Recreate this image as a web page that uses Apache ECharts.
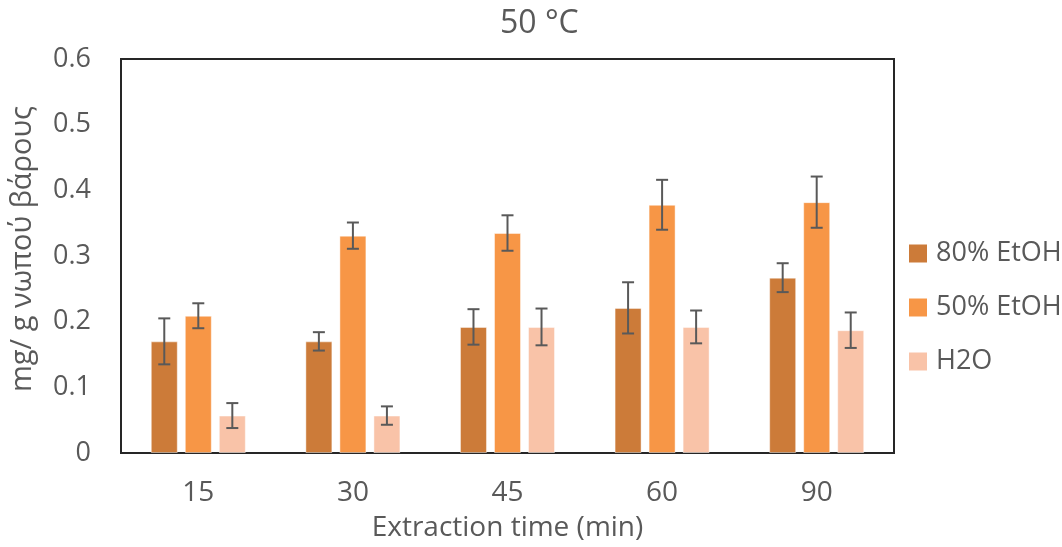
<!DOCTYPE html>
<html>
<head>
<meta charset="utf-8">
<script src="https://cdn.jsdelivr.net/npm/echarts@6/dist/echarts.min.js"></script>
<style>
  html, body { margin: 0; padding: 0; background: #fff; }
  #chart { width: 1062px; height: 547px; }
</style>
</head>
<body>
<div id="chart"></div>
<script>
// Extraction times (min)
const categories = ['15', '30', '45', '60', '90'];
const seriesNames = ['80% EtOH', '50% EtOH', 'H2O'];

// Mean content, mg / g fresh weight
const etoh80 = [0.170, 0.170, 0.192, 0.221, 0.267];
const etoh50 = [0.209, 0.331, 0.335, 0.378, 0.382];
const water  = [0.057, 0.057, 0.192, 0.192, 0.187];

// Standard deviations (± error)
const etoh80Err = [0.035, 0.014, 0.027, 0.039, 0.022];
const etoh50Err = [0.019, 0.020, 0.027, 0.038, 0.039];
const waterErr  = [0.019, 0.014, 0.028, 0.025, 0.027];

const yTicks = ['0', '0.1', '0.2', '0.3', '0.4', '0.5', '0.6'];

const colors = ['#CC7B39', '#F79646', '#F9C3A8'];
const textColor = '#595959';
const font = '"Open Sans", "Noto Sans", sans-serif';

const BAR_WIDTH = 27;
const BAR_GAP = 0.26;

const means = [etoh80, etoh50, water];
const errs = [etoh80Err, etoh50Err, waterErr];

const barSeries = seriesNames.map((name, i) => ({
  name: name,
  type: 'bar',
  data: means[i],
  barWidth: BAR_WIDTH,
  barGap: (BAR_GAP * 100) + '%',
  itemStyle: { color: colors[i], borderColor: 'rgba(255,255,255,0.45)', borderWidth: 1 },
  emphasis: { disabled: true },
  z: 2
}));

// Error bars drawn at each bar's centre within the category band
const errorSeries = seriesNames.map((name, i) => ({
  type: 'custom',
  name: name + ' err',
  data: means[i].map((v, k) => [k, v - errs[i][k], v + errs[i][k]]),
  encode: { x: 0, y: [1, 2] },
  z: 5,
  silent: true,
  renderItem: function (params, api) {
    const k = api.value(0);
    const lo = api.coord([k, api.value(1)]);
    const hi = api.coord([k, api.value(2)]);
    const offset = (i - 1) * BAR_WIDTH * (1 + BAR_GAP);
    const x = lo[0] + offset;
    const cap = 6;
    const style = { stroke: '#595959', lineWidth: 2 };
    return {
      type: 'group',
      children: [
        { type: 'line', shape: { x1: x, y1: lo[1], x2: x, y2: hi[1] }, style: style },
        { type: 'line', shape: { x1: x - cap, y1: hi[1], x2: x + cap, y2: hi[1] }, style: style },
        { type: 'line', shape: { x1: x - cap, y1: lo[1], x2: x + cap, y2: lo[1] }, style: style }
      ]
    };
  }
}));

const chart = echarts.init(document.getElementById('chart'), null, { renderer: 'canvas' });
chart.setOption({
  animation: false,
  backgroundColor: '#fff',
  textStyle: { fontFamily: font },
  title: {
    text: '50 °C',
    left: 500,
    top: 8,
    padding: 0,
    textStyle: { fontFamily: font, fontSize: 32, fontWeight: 'normal', color: textColor }
  },
  legend: {
    data: seriesNames,
    orient: 'vertical',
    left: 904,
    top: 235,
    icon: 'rect',
    itemWidth: 18,
    itemHeight: 18,
    itemGap: 27,
    itemStyle: { borderWidth: 0 },
    textStyle: { fontFamily: font, fontSize: 27, color: textColor, lineHeight: 27, padding: [0, 0, 0, 4] }
  },
  grid: {
    left: 119, right: 168, top: 59, bottom: 93,
    show: true,
    borderColor: '#262626',
    borderWidth: 2,
    containLabel: false
  },
  xAxis: {
    type: 'category',
    data: categories,
    name: 'Extraction time (min)',
    nameLocation: 'middle',
    nameGap: 61,
    nameTextStyle: { fontFamily: font, fontSize: 28, color: textColor },
    axisLine: { show: false },
    axisTick: { show: false },
    axisLabel: { fontFamily: font, fontSize: 28, color: textColor, margin: 26 },
    splitLine: { show: false }
  },
  yAxis: {
    type: 'value',
    min: 0,
    max: 0.6,
    interval: 0.1,
    name: 'mg/ g νωπού βάρους',
    nameLocation: 'middle',
    nameGap: 84,
    nameRotate: 90,
    nameTextStyle: { fontFamily: font, fontSize: 29, color: textColor, padding: [0, 0, 0, 14] },
    axisLine: { show: false },
    axisTick: { show: false },
    splitLine: { show: false },
    axisLabel: {
      fontFamily: font, fontSize: 27, color: textColor, margin: 30,
      formatter: function (v) { return yTicks[Math.round(v * 10)]; }
    }
  },
  series: barSeries.concat(errorSeries)
});
</script>
</body>
</html>
